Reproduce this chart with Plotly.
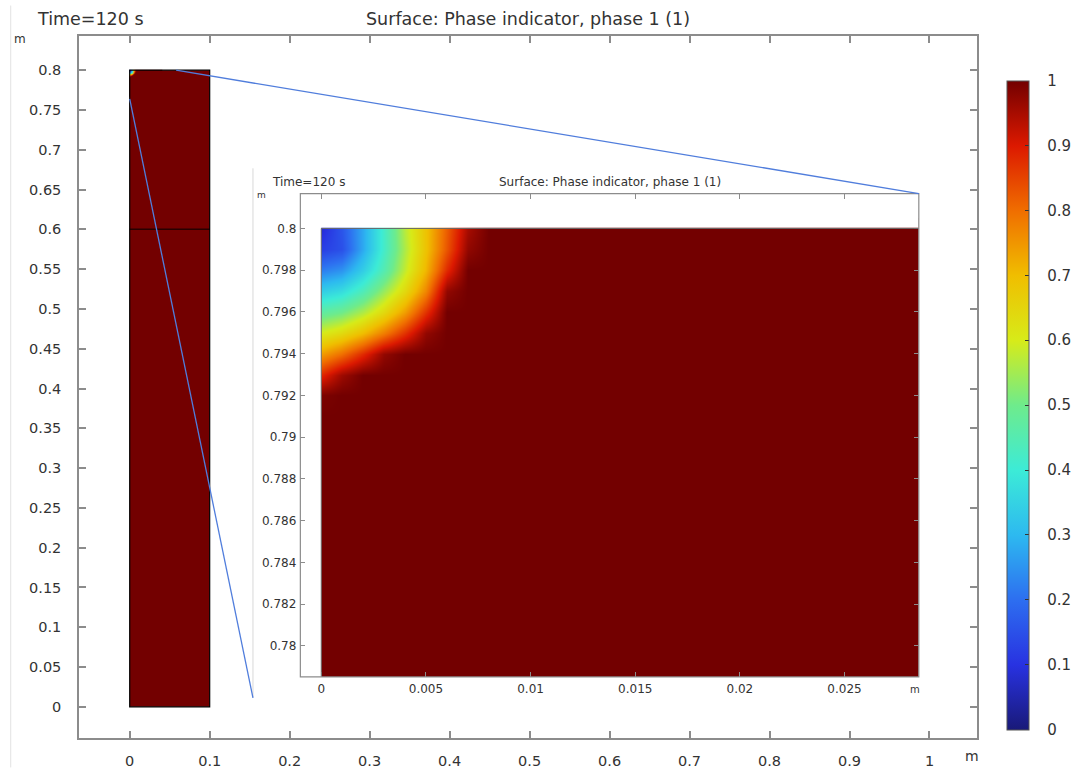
import plotly.graph_objects as go

# ---------------- data ----------------
# nodal values of "Phase indicator, phase 1" near the top-left corner (read from the zoom view)
field_x = [0, 0.001, 0.002, 0.003, 0.004, 0.005, 0.006, 0.007, 0.008, 0.03]
field_y = [0.775, 0.791, 0.792, 0.793, 0.794, 0.795, 0.796, 0.797, 0.798, 0.799, 0.8]
phase1 = [
    [1.00, 1.00, 1.00, 1.00, 1.00, 1.00, 1.00, 1.00, 1.00, 1.00],  # 0.775
    [1.00, 1.00, 1.00, 1.00, 1.00, 1.00, 1.00, 1.00, 1.00, 1.00],  # 0.791
    [0.99, 1.00, 1.00, 1.00, 1.00, 1.00, 1.00, 1.00, 1.00, 1.00],  # 0.792
    [0.88, 0.96, 1.00, 1.00, 1.00, 1.00, 1.00, 1.00, 1.00, 1.00],  # 0.793
    [0.74, 0.80, 0.88, 0.97, 1.00, 1.00, 1.00, 1.00, 1.00, 1.00],  # 0.794
    [0.60, 0.64, 0.70, 0.78, 0.87, 0.97, 1.00, 1.00, 1.00, 1.00],  # 0.795
    [0.47, 0.50, 0.56, 0.64, 0.74, 0.87, 1.00, 1.00, 1.00, 1.00],  # 0.796
    [0.34, 0.37, 0.44, 0.54, 0.64, 0.77, 0.97, 1.00, 1.00, 1.00],  # 0.797
    [0.22, 0.25, 0.34, 0.45, 0.58, 0.71, 0.88, 1.00, 1.00, 1.00],  # 0.798
    [0.12, 0.15, 0.28, 0.42, 0.56, 0.69, 0.83, 0.97, 1.00, 1.00],  # 0.799
    [0.08, 0.16, 0.28, 0.42, 0.57, 0.69, 0.82, 0.95, 1.00, 1.00],  # 0.8
]
domain_x = [0, 0.1]
domain_y = [0, 0.8]
interface_y = 0.6
zoom_top_point = [0.058, 0.8]
zoom_left_point = [0, 0.764]

main_xticks = [0, 0.1, 0.2, 0.3, 0.4, 0.5, 0.6, 0.7, 0.8, 0.9, 1]
main_xlabels = ["0", "0.1", "0.2", "0.3", "0.4", "0.5", "0.6", "0.7", "0.8", "0.9", "1"]
main_yticks = [0, 0.05, 0.1, 0.15, 0.2, 0.25, 0.3, 0.35, 0.4, 0.45, 0.5, 0.55, 0.6, 0.65, 0.7, 0.75, 0.8]
main_ylabels = ["0", "0.05", "0.1", "0.15", "0.2", "0.25", "0.3", "0.35", "0.4", "0.45", "0.5",
                "0.55", "0.6", "0.65", "0.7", "0.75", "0.8"]
inset_xticks = [0, 0.005, 0.01, 0.015, 0.02, 0.025]
inset_xlabels = ["0", "0.005", "0.01", "0.015", "0.02", "0.025"]
inset_yticks = [0.78, 0.782, 0.784, 0.786, 0.788, 0.79, 0.792, 0.794, 0.796, 0.798, 0.8]
inset_ylabels = ["0.78", "0.782", "0.784", "0.786", "0.788", "0.79", "0.792", "0.794", "0.796", "0.798", "0.8"]
cbar_ticks = [0, 0.1, 0.2, 0.3, 0.4, 0.5, 0.6, 0.7, 0.8, 0.9, 1]
cbar_labels = ["0", "0.1", "0.2", "0.3", "0.4", "0.5", "0.6", "0.7", "0.8", "0.9", "1"]

# ---------------- styling ----------------
W, H = 1075, 768
ML, MR, MT, MB = 79.3, 97.5, 35.5, 29.5
PW, PH = W - ML - MR, H - MT - MB


def pxx(xp):
    return (xp - ML) / PW


def pyy(yp):
    return (H - MB - yp) / PH


FONT = "DejaVu Sans"
TXT = "#333333"
FRAME = "#8c8c8c"
DARKRED = "rgb(115,0,0)"
colorscale = [
    [0.0, "rgb(25,25,120)"],
    [0.1, "rgb(40,50,225)"],
    [0.2, "rgb(45,110,240)"],
    [0.3, "rgb(45,185,240)"],
    [0.4, "rgb(60,235,215)"],
    [0.5, "rgb(110,235,140)"],
    [0.6, "rgb(215,235,25)"],
    [0.7, "rgb(240,190,0)"],
    [0.8, "rgb(240,110,0)"],
    [0.9, "rgb(220,25,0)"],
    [1.0, DARKRED],
]

main_xr = [-0.0634, 1.0594]
main_yr = [-0.0392, 0.843]
inset_xr = [-0.001, 0.02855]
inset_yr = [0.77852, 0.80167]
inset_xdom = [pxx(300.7), pxx(919.3)]
inset_ydom = [pyy(677.3), pyy(193.3)]

NBSP = "\u00a0"
fig = go.Figure()

fig.add_trace(go.Heatmap(
    x=field_x, y=field_y, z=phase1, zmin=0, zmax=1, zsmooth="best",
    colorscale=colorscale, showscale=False, xaxis="x", yaxis="y", hoverinfo="skip"))

fig.add_trace(go.Heatmap(
    x=field_x, y=field_y, z=phase1, zmin=0, zmax=1, zsmooth="best",
    colorscale=colorscale, xaxis="x2", yaxis="y2", hoverinfo="skip",
    colorbar=dict(
        x=pxx(1007.7), xanchor="left", xpad=0, ypad=0,
        y=pyy((80.3 + 730) / 2), yanchor="middle", len=649.7 / PH, lenmode="fraction",
        thickness=22, outlinewidth=1, outlinecolor="#555555",
        tickvals=cbar_ticks, ticktext=[NBSP * 3 + t for t in cbar_labels],
        ticks="inside", ticklen=4, tickwidth=1.2, tickcolor="#333333",
        tickfont=dict(family=FONT, size=15, color=TXT))))

axis_common = dict(showgrid=False, zeroline=False, mirror="ticks",
                   linecolor=FRAME, ticks="inside", tickcolor=FRAME)

fig.update_layout(
    width=W, height=H, margin=dict(l=ML, r=MR, t=MT, b=MB, pad=0, autoexpand=False),
    paper_bgcolor="white", plot_bgcolor="white", showlegend=False,
    xaxis=dict(domain=[0, 1], range=main_xr, anchor="y", tickvals=main_xticks, ticktext=main_xlabels,
               showline=True, linewidth=1.5, ticklen=7, tickwidth=1.5, ticklabelstandoff=9,
               tickfont=dict(family=FONT, size=14.5, color=TXT), **axis_common),
    yaxis=dict(domain=[0, 1], range=main_yr, anchor="x", tickvals=main_yticks, ticktext=main_ylabels,
               showline=True, linewidth=1.5, ticklen=7, tickwidth=1.5, ticklabelstandoff=13,
               tickfont=dict(family=FONT, size=14.5, color=TXT), **axis_common),
    xaxis2=dict(domain=inset_xdom, range=inset_xr, anchor="y2", tickvals=inset_xticks, ticktext=inset_xlabels,
                showline=False, ticklen=5, tickwidth=1, ticklabelstandoff=3,
                tickfont=dict(family=FONT, size=12, color=TXT), **axis_common),
    yaxis2=dict(domain=inset_ydom, range=inset_yr, anchor="x2", tickvals=inset_yticks, ticktext=inset_ylabels,
                showline=False, ticklen=5, tickwidth=1, ticklabelstandoff=3,
                tickfont=dict(family=FONT, size=12, color=TXT), **axis_common),
)

shapes = []
# main domain fill (below traces) and borders
shapes.append(dict(type="rect", xref="x", yref="y", x0=domain_x[0], x1=domain_x[1], y0=domain_y[0], y1=domain_y[1],
                   fillcolor=DARKRED, line=dict(width=0), layer="below"))
shapes.append(dict(type="line", xref="x", yref="y", x0=domain_x[0], x1=domain_x[1], y0=interface_y, y1=interface_y,
                   line=dict(color="rgb(40,0,0)", width=1.5), layer="above"))
shapes.append(dict(type="rect", xref="x", yref="y", x0=domain_x[0], x1=domain_x[1], y0=domain_y[0], y1=domain_y[1],
                   line=dict(color="black", width=1.2), layer="above"))
# white masks hiding the heatmap half-cells outside the inset domain (clipped to the inset area)
shapes.append(dict(type="rect", xref="x2", yref="y2", x0=-0.0007, x1=domain_x[0], y0=inset_yr[0] - 0.001,
                   y1=0.8012, fillcolor="white", line=dict(width=0), layer="above"))
shapes.append(dict(type="rect", xref="x2", yref="y2", x0=-0.0007, x1=inset_xr[1] + 0.001,
                   y0=domain_y[1] + 0.00003, y1=0.8012, fillcolor="white", line=dict(width=0), layer="above"))
# inset domain boundaries
shapes.append(dict(type="line", xref="x2", yref="y2", x0=0, x1=inset_xr[1], y0=domain_y[1], y1=domain_y[1],
                   line=dict(color="#6a6a6a", width=1), layer="above"))
shapes.append(dict(type="line", xref="x2", yref="y2", x0=0, x1=0, y0=inset_yr[0], y1=domain_y[1],
                   line=dict(color="#6a6a6a", width=1), layer="above"))
# inset frame
shapes.append(dict(type="rect", xref="paper", yref="paper", x0=inset_xdom[0], x1=inset_xdom[1],
                   y0=inset_ydom[0], y1=inset_ydom[1], line=dict(color=FRAME, width=1.2), layer="above"))
# faint image borders
shapes.append(dict(type="line", xref="paper", yref="paper", x0=pxx(11), x1=pxx(11), y0=pyy(5), y1=pyy(768),
                   line=dict(color="#e2e2e2", width=1), layer="above"))
shapes.append(dict(type="line", xref="paper", yref="paper", x0=pxx(253.3), x1=pxx(253.3), y0=pyy(168), y1=pyy(698),
                   line=dict(color="#d8d8d8", width=1), layer="above"))


def data2paper(v, r):
    return (v - r[0]) / (r[1] - r[0])


BLUE = "rgb(80,125,220)"
shapes.append(dict(type="line", xref="paper", yref="paper",
                   x0=data2paper(zoom_top_point[0], main_xr), y0=data2paper(zoom_top_point[1], main_yr),
                   x1=inset_xdom[1], y1=inset_ydom[1], line=dict(color=BLUE, width=1.3), layer="above"))
shapes.append(dict(type="line", xref="paper", yref="paper",
                   x0=data2paper(zoom_left_point[0], main_xr), y0=data2paper(zoom_left_point[1], main_yr),
                   x1=pxx(253.3), y1=pyy(698.3), line=dict(color=BLUE, width=1.3), layer="above"))
fig.update_layout(shapes=shapes)

ann = []


def add_text(text, x, y, size, xanchor="center"):
    ann.append(dict(text=text, x=pxx(x), y=pyy(y), xref="paper", yref="paper", showarrow=False,
                    xanchor=xanchor, yanchor="middle", font=dict(family=FONT, size=size, color=TXT)))


add_text("Time=120 s", 35, 18, 17.5, "left")
add_text("Surface: Phase indicator, phase 1 (1)", 528.5, 18, 17.5)
add_text("m", 20, 39, 12)
add_text("m", 972, 757, 14)
add_text("Time=120 s", 270.7, 181.5, 12, "left")
add_text("Surface: Phase indicator, phase 1 (1)", 610, 181.5, 12)
add_text("m", 261.7, 195, 9)
add_text("m", 915.7, 690, 10)
fig.update_layout(annotations=ann)

fig.write_html("out.html", config={"displayModeBar": False},
               post_script="document.body.style.margin='0';")
